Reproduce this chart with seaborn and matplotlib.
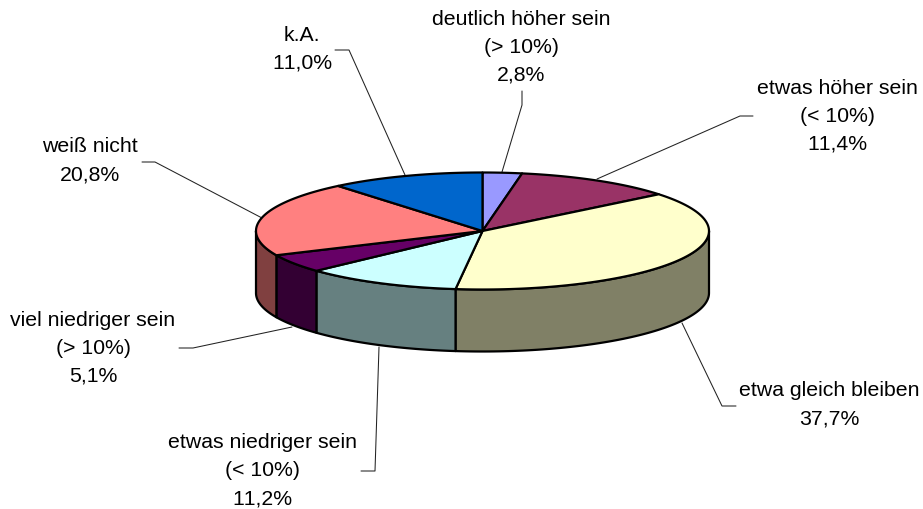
import numpy as np
import matplotlib
matplotlib.use('Agg')
import matplotlib.pyplot as plt
import seaborn as sns

# Anteile in Prozent, im Uhrzeigersinn ab 12 Uhr
labels = ['deutlich höher sein\n(> 10%)', 'etwas höher sein\n(< 10%)', 'etwa gleich bleiben',
          'etwas niedriger sein\n(< 10%)', 'viel niedriger sein\n(> 10%)', 'weiß nicht', 'k.A.']
values = [2.8, 11.4, 37.7, 11.2, 5.1, 20.8, 11.0]
top_colors = ['#9999FF', '#993366', '#FFFFCC', '#CCFFFF', '#660066', '#FF8080', '#0066CC']
side_colors = ['#4D4D80', '#4D1A33', '#808066', '#668080', '#330033', '#804040', '#003366']

# Geometrie in Pixeln
cx, cy = 482.5, 231
rx, ry = 226.5, 58.5
depth = 62

label_pos = [(521, 47), (837.5, 116), (829.5, 405), (262.5, 471), (93, 348), (90, 161), (302, 49)]
leaders = [
    [(502, 172), (522, 105), (522, 91)],
    [(597, 179), (740, 116), (753, 116)],
    [(682, 323), (722, 406), (736, 406)],
    [(379, 347), (375, 471), (361, 471)],
    [(292, 327), (193, 348), (179, 348)],
    [(262, 218), (155, 162), (142, 162)],
    [(405, 175), (349, 50), (335, 50)],
]


def ell(deg):
    t = np.radians(deg)
    return cx + rx * np.sin(t), cy - ry * np.cos(t)


sns.set_theme(style='white')
plt.rcParams['font.family'] = ['Liberation Sans', 'DejaVu Sans']
plt.rcParams['text.kerning_factor'] = 6

fig, ax = plt.subplots(figsize=(9.23, 5.09), dpi=100)
ax.set_position([0, 0, 1, 1])
ax.set_xlim(0, 923)
ax.set_ylim(509, 0)
ax.axis('off')

edges = np.cumsum([0] + values) * 3.6

# Seitenwand, nur der vordere Teil (90 bis 270 Grad)
for i in range(len(values)):
    a = max(edges[i], 90)
    b = min(edges[i + 1], 270)
    if b <= a:
        continue
    t = np.linspace(a, b, 80)
    x, y = ell(t)
    ax.fill(np.r_[x, x[::-1]], np.r_[y, y[::-1] + depth], facecolor=side_colors[i],
            edgecolor='black', lw=1.6, joinstyle='round', zorder=2)

# Deckel
for i in range(len(values)):
    t = np.linspace(edges[i], edges[i + 1], 100)
    x, y = ell(t)
    ax.fill(np.r_[cx, x], np.r_[cy, y], facecolor=top_colors[i],
            edgecolor='black', lw=1.6, joinstyle='round', zorder=3)

# Beschriftung
for i, lab in enumerate(labels):
    txt = lab + '\n' + f'{values[i]:.1f}'.replace('.', ',') + '%'
    ax.text(label_pos[i][0], label_pos[i][1], txt, ha='center', va='center', fontsize=15.3,
            color='black', linespacing=1.6, zorder=5)
    pts = np.array(leaders[i])
    ax.plot(pts[:, 0], pts[:, 1], color='#222222', lw=0.75, zorder=1)

fig.savefig('out.png', dpi=100)
